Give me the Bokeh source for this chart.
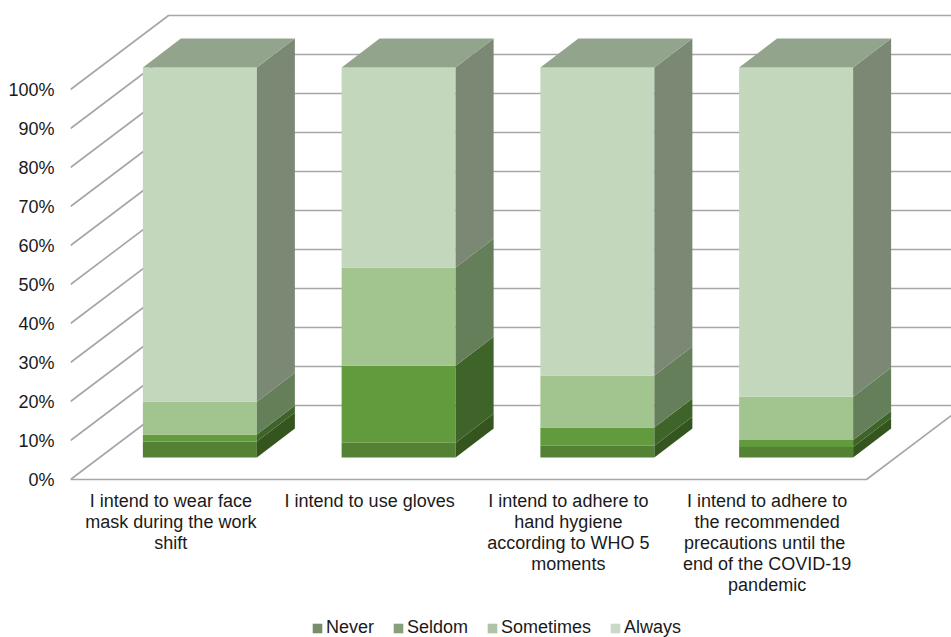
from bokeh.plotting import figure
from bokeh.models import FixedTicker, Legend, LegendItem
from bokeh.embed import file_html
from bokeh.resources import INLINE

categories = [
    "I intend to wear face\nmask during the work\nshift",
    "I intend to use gloves",
    "I intend to adhere to\nhand hygiene\naccording to WHO 5\nmoments",
    "I intend to adhere to\nthe recommended\nprecautions until  the\nend of the COVID-19\npandemic",
]
series_names = ["Never", "Seldom", "Sometimes", "Always"]
never = [4.1, 3.8, 3.0, 2.7]
seldom = [1.8, 19.7, 4.7, 1.8]
sometimes = [8.4, 25.2, 13.3, 11.1]
always = [85.7, 51.3, 79.0, 84.4]
series = [never, seldom, sometimes, always]

front_colors = ["#548235", "#629a3e", "#a2c590", "#c2d7bb"]
side_colors = ["#35551f", "#3f6429", "#647f5a", "#7a8874"]
top_color = "#92a48c"
legend_colors = ["#7a8c6e", "#87a07c", "#b0c2a8", "#ccd8c9"]
grid_color = "#a6a6a6"
text_color = "#1a1a1a"
font = "Liberation Sans"
font_size = "18px"

y_ticks = [0, 10, 20, 30, 40, 50, 60, 70, 80, 90, 100]
y_tick_labels = {v: f"{v}%" for v in y_ticks}

# projection of the 3D box, expressed in data units
PX_CAT = 198.75          # px per category
PX_PCT = 3.9             # px per percent
px = lambda v: v / PX_CAT
pc = lambda v: v / PX_PCT
wall_dx, wall_dy = px(98), pc(74)      # front -> back of the floor
bar_dx, bar_dy = px(29), pc(22)        # floor front -> bar front
depth_dx, depth_dy = px(38), pc(29)    # bar depth
half_w = px(57)

W, H = 951, 637
FRAME_L, ZERO_Y = 70, 479
x0 = -px(1)
x1 = x0 + px(W - FRAME_L)
y0, y1 = -pc(H - ZERO_Y), pc(ZERO_Y)

p = figure(width=W, height=H, output_backend="svg", toolbar_location=None,
           x_range=(x0, x1), y_range=(y0, y1),
           min_border_left=FRAME_L, min_border_right=0, min_border_top=0,
           min_border_bottom=0)
p.outline_line_color = None
p.grid.visible = False
p.background_fill_color = None

# walls and floor
xs, ys = [], []
for v in y_ticks:
    xs.append([x0, wall_dx + x0, x1])
    ys.append([v, v + wall_dy, v + wall_dy])
n = len(categories)
xs.append([x0, n, n + wall_dx])
ys.append([0, 0, wall_dy])
p.multi_line(xs, ys, line_color=grid_color, line_width=1.6)

# bars
bottoms = [0.0] * n
for k, vals in enumerate(series):
    lefts = [i + 0.5 + bar_dx - half_w for i in range(n)]
    rights = [i + 0.5 + bar_dx + half_w for i in range(n)]
    bot = [b + bar_dy for b in bottoms]
    top = [b + v for b, v in zip(bot, vals)]
    p.quad(left=lefts, right=rights, bottom=bot, top=top,
           fill_color=front_colors[k], line_color=None)
    sx = [[r, r + depth_dx, r + depth_dx, r] for r in rights]
    sy = [[b, b + depth_dy, t + depth_dy, t] for b, t in zip(bot, top)]
    p.patches(sx, sy, fill_color=side_colors[k], line_color=None)
    bottoms = [b + v for b, v in zip(bottoms, vals)]
    if k == len(series) - 1:
        tx = [[l, r, r + depth_dx, l + depth_dx] for l, r in zip(lefts, rights)]
        ty = [[t, t, t + depth_dy, t + depth_dy] for t in top]
        p.patches(tx, ty, fill_color=top_color, line_color=None)

# axes
p.yaxis.ticker = FixedTicker(ticks=y_ticks)
p.yaxis.major_label_overrides = y_tick_labels
p.yaxis.axis_line_color = None
p.yaxis.major_tick_line_color = None
p.yaxis.minor_tick_line_color = None
p.yaxis.major_label_standoff = 10
p.yaxis.major_label_text_font = font
p.yaxis.major_label_text_font_size = font_size
p.yaxis.major_label_text_color = text_color

p.xaxis.fixed_location = 0
p.xaxis.ticker = FixedTicker(ticks=[i + 0.5 for i in range(n)])
p.xaxis.major_label_overrides = {i + 0.5: c for i, c in enumerate(categories)}
p.xaxis.axis_line_color = None
p.xaxis.major_tick_line_color = None
p.xaxis.minor_tick_line_color = None
p.xaxis.major_label_standoff = 5
p.xaxis.major_label_text_font = font
p.xaxis.major_label_text_font_size = font_size
p.xaxis.major_label_text_color = text_color
p.xaxis.major_label_text_line_height = 1.05

# legend
nan = float("nan")
items = []
for name, col in zip(series_names, legend_colors):
    r = p.quad(left=[nan], right=[nan], top=[nan], bottom=[nan], fill_color=col, line_color=None)
    items.append(LegendItem(label=name, renderers=[r]))
legend = Legend(items=items, orientation="horizontal", location=(241, -1),
                background_fill_alpha=0, border_line_color=None,
                glyph_width=12, glyph_height=12, spacing=18, label_standoff=3,
                padding=0, margin=0,
                label_text_font=font, label_text_font_size=font_size,
                label_text_color=text_color)
p.add_layout(legend, "center")

open("out.html", "w").write(file_html(p, INLINE))
